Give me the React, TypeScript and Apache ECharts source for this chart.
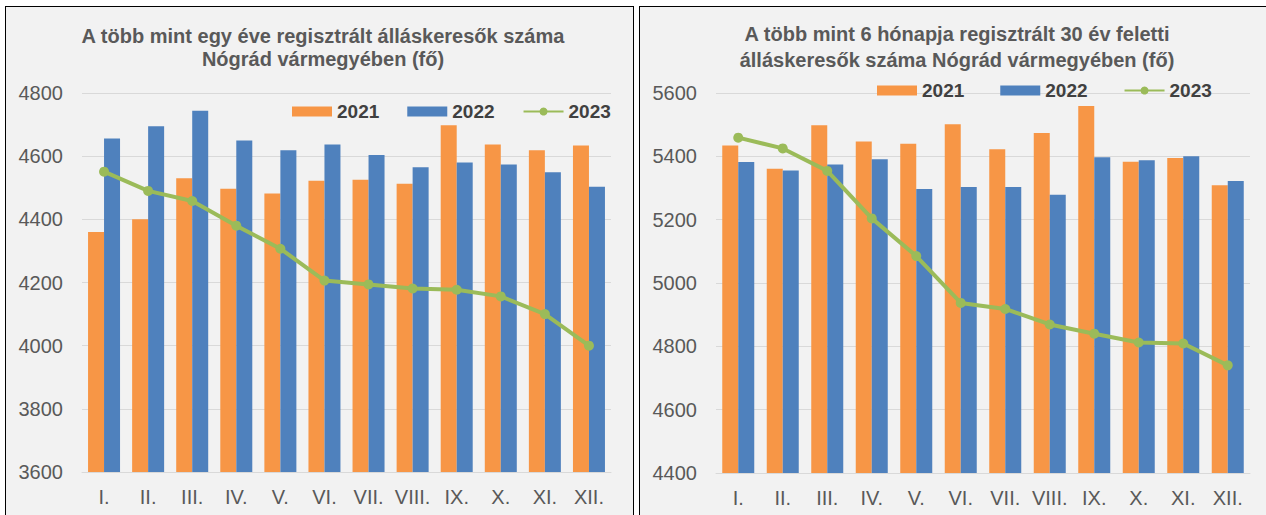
import React, { useEffect, useRef } from "react";
import * as echarts from "echarts";

const categories = ["I.", "II.", "III.", "IV.", "V.", "VI.", "VII.", "VIII.", "IX.", "X.", "XI.", "XII."];
const seriesNames = ["2021", "2022", "2023"];

const leftTitle = "A több mint egy éve regisztrált álláskeresők száma\nNógrád vármegyében (fő)";
const left2021 = [4360, 4400, 4530, 4497, 4482, 4522, 4525, 4513, 4698, 4637, 4619, 4634];
const left2022 = [4656, 4695, 4744, 4650, 4619, 4637, 4604, 4565, 4580, 4574, 4549, 4503];
const left2023 = [4551, 4490, 4458, 4380, 4307, 4206, 4194, 4181, 4177, 4156, 4100, 4000];
const leftAxis = { min: 3600, max: 4800, interval: 200 };

const rightTitle = "A több mint 6 hónapja regisztrált 30 év feletti\nálláskeresők száma Nógrád vármegyében (fő)";
const right2021 = [5434, 5361, 5498, 5447, 5440, 5501, 5422, 5474, 5559, 5383, 5395, 5309];
const right2022 = [5382, 5355, 5374, 5391, 5297, 5303, 5303, 5279, 5397, 5388, 5400, 5322];
const right2023 = [5459, 5425, 5354, 5204, 5085, 4937, 4918, 4869, 4840, 4812, 4809, 4740];
const rightAxis = { min: 4400, max: 5600, interval: 200 };

const FONT = "'Liberation Sans', Arial, sans-serif";
const ORANGE = "#f79646";
const BLUE = "#4f81bd";
const GREEN = "#9bbb59";

function buildOption(cfg: any) {
  return {
    animation: false,
    backgroundColor: "#f2f2f2",
    textStyle: { fontFamily: FONT },
    title: {
      text: cfg.title,
      left: cfg.titleX,
      top: cfg.titleTop,
      textAlign: "center",
      textStyle: {
        fontFamily: FONT,
        fontSize: 20,
        fontWeight: "bold",
        color: "#595959",
        lineHeight: cfg.titleLH,
      },
    },
    legend: {
      left: cfg.legendLeft,
      top: cfg.legendTop,
      itemWidth: 40,
      itemHeight: 10,
      itemGap: cfg.legendGap,
      textStyle: { fontFamily: FONT, fontSize: 19, fontWeight: "bold", color: "#404040" },
      data: [
        { name: seriesNames[0], icon: "rect" },
        { name: seriesNames[1], icon: "rect" },
        { name: seriesNames[2] },
      ],
    },
    grid: { left: cfg.gridLeft, top: 86, width: cfg.gridWidth, height: cfg.gridHeight },
    xAxis: {
      type: "category",
      data: categories,
      axisLine: { lineStyle: { color: "#d9d9d9", width: 1 } },
      axisTick: { show: false },
      axisLabel: { fontFamily: FONT, fontSize: 20, color: "#595959", margin: 15, interval: 0 },
    },
    yAxis: {
      type: "value",
      min: cfg.axis.min,
      max: cfg.axis.max,
      interval: cfg.axis.interval,
      axisLine: { show: false },
      axisTick: { show: false },
      axisLabel: {
        fontFamily: FONT,
        fontSize: 20,
        color: "#595959",
        margin: 19,
        formatter: (v: number) => String(v),
      },
      splitLine: { lineStyle: { color: "#d9d9d9", width: 1 } },
    },
    series: [
      {
        name: seriesNames[0],
        type: "bar",
        data: cfg.s1,
        barWidth: 16,
        barGap: "0%",
        itemStyle: { color: ORANGE },
      },
      {
        name: seriesNames[1],
        type: "bar",
        data: cfg.s2,
        barWidth: 16,
        barGap: "0%",
        itemStyle: { color: BLUE },
      },
      {
        name: seriesNames[2],
        type: "line",
        data: cfg.s3,
        symbol: "circle",
        symbolSize: 10,
        z: 5,
        itemStyle: { color: GREEN },
        lineStyle: { color: GREEN, width: 4 },
      },
    ],
  };
}

function Chart({ cfg, style }: { cfg: any; style: React.CSSProperties }) {
  const ref = useRef<HTMLDivElement>(null);
  useEffect(() => {
    if (!ref.current) return;
    const chart = echarts.init(ref.current, undefined, { renderer: "svg" });
    chart.setOption(buildOption(cfg));
    return () => chart.dispose();
  }, [cfg]);
  return <div ref={ref} style={style} />;
}

const leftCfg = {
  title: leftTitle,
  titleX: 312,
  titleTop: 12,
  titleLH: 23,
  legendLeft: 281,
  legendTop: 90,
  legendGap: 28,
  gridLeft: 76,
  gridWidth: 529,
  gridHeight: 379,
  axis: leftAxis,
  s1: left2021,
  s2: left2022,
  s3: left2023,
};

const rightCfg = {
  title: rightTitle,
  titleX: 312,
  titleTop: 9,
  titleLH: 26,
  legendLeft: 232,
  legendTop: 69,
  legendGap: 36,
  gridLeft: 76,
  gridWidth: 534,
  gridHeight: 380,
  axis: rightAxis,
  s1: right2021,
  s2: right2022,
  s3: right2023,
};

export default function App() {
  return (
    <div
      style={{
        position: "fixed",
        left: 0,
        top: 0,
        width: 1266,
        height: 515,
        overflow: "hidden",
        background: "#ffffff",
      }}
    >
      <div
        style={{
          position: "absolute",
          left: 5,
          top: 6,
          width: 629,
          height: 530,
          border: "1px solid #000",
          boxSizing: "border-box",
          background: "#f2f2f2",
        }}
      >
        <Chart cfg={leftCfg} style={{ width: 627, height: 528 }} />
      </div>
      <div
        style={{
          position: "absolute",
          left: 639,
          top: 6,
          width: 650,
          height: 530,
          border: "1px solid #000",
          boxSizing: "border-box",
          background: "#f2f2f2",
        }}
      >
        <Chart cfg={rightCfg} style={{ width: 648, height: 528 }} />
      </div>
    </div>
  );
}
